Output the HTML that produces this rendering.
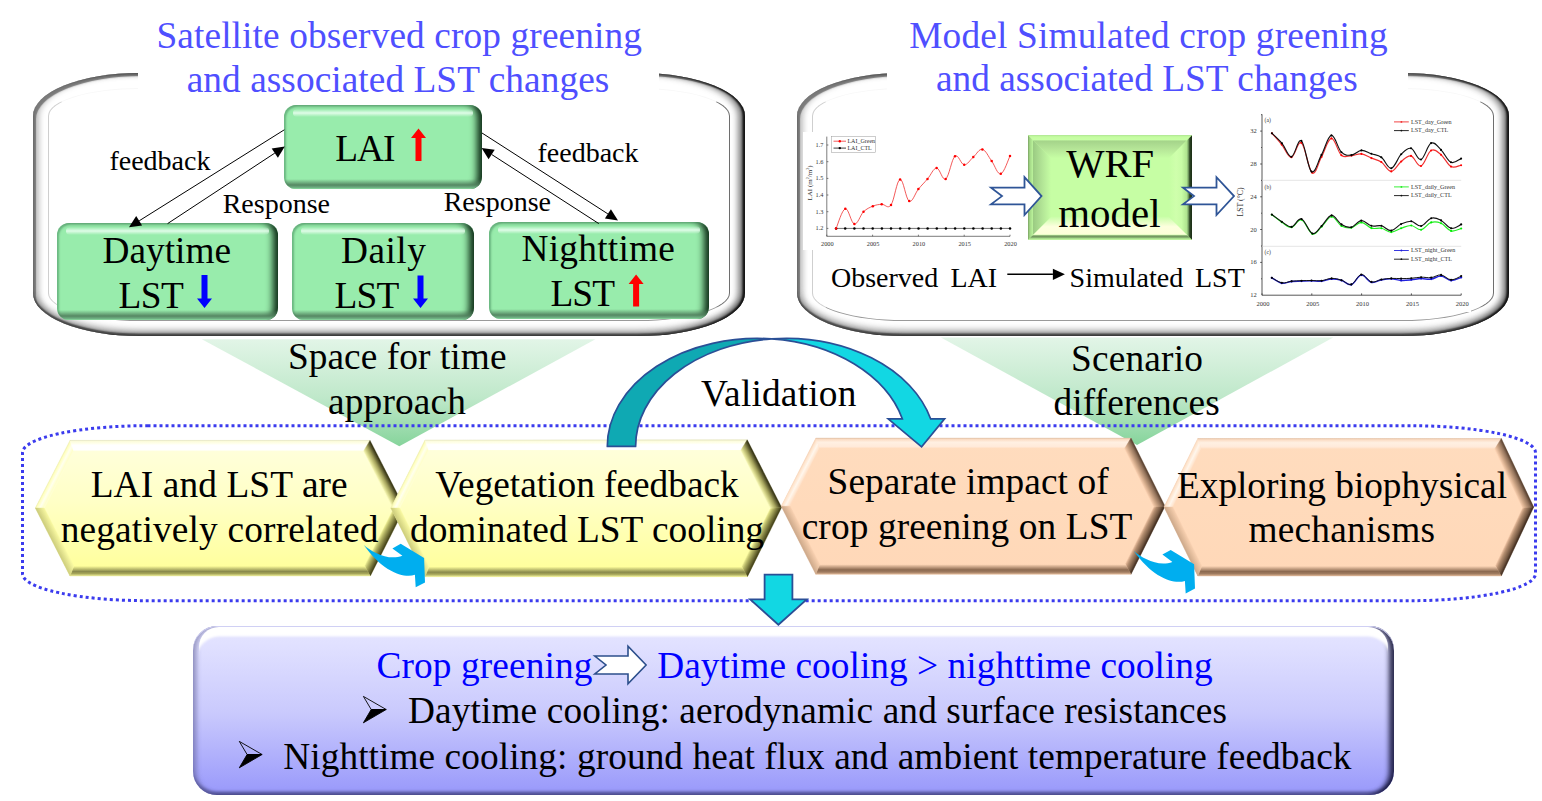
<!DOCTYPE html>
<html lang="en"><head><meta charset="utf-8"><title>Crop greening and LST changes - graphical abstract</title>
<style>
html,body{margin:0;padding:0;background:#fff}
body{width:1542px;height:801px;position:relative;overflow:hidden;font-family:"Liberation Serif", "Times New Roman", serif}
.abs{position:absolute}
.panel{position:absolute;border-radius:106px / 43px;background:#fff;
 box-shadow: inset -2.5px 0 2px 0 rgba(15,15,15,.95), inset 0 -2.5px 1.5px 0 rgba(72,72,72,.95), inset -7px 0 6px 0 rgba(50,50,50,.6), inset 0 -6px 6px 0 rgba(100,100,100,.55), inset 3px 3px 1px 0 #7e7e7e, inset 7px 1px 5px 0 rgba(140,140,140,.42);}
.panel i{position:absolute;left:15px;top:15px;right:15px;bottom:15px;border-radius:91px / 28px;border:1px solid;border-color:#f8f8f8 #6e6e6e #9a9a9a #cfcfcf}
.cover{position:absolute;background:#fff}
.bbox{position:absolute;left:193px;top:626px;width:1201px;height:168.5px;border-radius:24px;
 background:linear-gradient(to bottom,#dcdcfa 0,#e2e2ff 8%,#e0e0ff 12%,#c9c9fd 52%,#9c9cfb 96%);
 box-shadow: inset 0 1px 0 0 #d0d0f4, inset 5px 0 4px -1px rgba(95,95,150,.5), inset -6px 0 5px -1px rgba(12,12,45,.82), inset 0 -4.5px 3px -1px rgba(80,80,150,.78);}
.bbox:before{content:"";position:absolute;left:5.5px;right:6px;top:1.2px;height:60px;border-radius:20px 20px 0 0;
 box-shadow: inset 0 11.5px 2.5px -2px #fff;}
.gbox{position:absolute;border-radius:12px;background:#98ecac;overflow:hidden;
 box-shadow: inset 2px 1.5px 2px 0 rgba(70,140,95,.55), inset -8px 0 7px -3px rgba(0,25,8,.9);}
.gbox:before{content:"";position:absolute;left:9px;right:9px;top:4px;height:8px;border-radius:4px;
 background:linear-gradient(to bottom,rgba(255,255,255,0),rgba(235,255,242,.85) 50%,rgba(255,255,255,0));filter:blur(.6px)}
.gbox:after{content:"";position:absolute;left:0;right:0;bottom:0;height:10px;
 background:linear-gradient(to top,rgba(140,220,160,1) 0,rgba(110,175,130,1) 1.5px,rgba(82,130,95,.95) 4px,rgba(82,130,95,0) 10px)}
svg text{font-family:"Liberation Serif", "Times New Roman", serif}
svg{position:absolute;left:0;top:0}
</style></head><body>

<div class="panel" style="left:33px;top:73px;width:712px;height:263px"><i></i></div>
<div class="panel" style="left:797px;top:73px;width:712px;height:263px"><i></i></div>
<div class="cover" style="left:138px;top:60px;width:521px;height:50px"></div>
<div class="cover" style="left:887px;top:60px;width:521px;height:50px"></div>
<div class="cover" style="left:803px;top:132px;width:217px;height:118px"></div>
<div class="cover" style="left:1237px;top:108px;width:234px;height:204px"></div>
<div class="gbox" style="left:284px;top:105px;width:198px;height:84px"></div>
<div class="gbox" style="left:56.5px;top:223px;width:221px;height:97px"></div>
<div class="gbox" style="left:292px;top:223px;width:182px;height:97px"></div>
<div class="gbox" style="left:488.5px;top:222px;width:220.5px;height:97px"></div>
<div class="bbox"></div>
<svg width="1542" height="801" viewBox="0 0 1542 801">
<defs>
<linearGradient id="tri" x1="0" y1="0" x2="0" y2="1"><stop offset="0" stop-color="#e2f5e7"/><stop offset="0.55" stop-color="#bfe8ca"/><stop offset="1" stop-color="#86d49b"/></linearGradient>
<linearGradient id="bb" x1="0" y1="0" x2="0" y2="1"><stop offset="0" stop-color="#e8e8ff"/><stop offset="0.5" stop-color="#c8c8fd"/><stop offset="1" stop-color="#9898fb"/></linearGradient>
</defs>
<text x="399.2" y="47.9" font-size="37.33" fill="#4f4fff" text-anchor="middle"  textLength="485.6" lengthAdjust="spacing">Satellite observed crop greening</text>
<text x="398" y="91.7" font-size="37.33" fill="#4f4fff" text-anchor="middle"  textLength="422.6" lengthAdjust="spacing">and associated LST changes</text>
<text x="1148.4" y="48.3" font-size="37.33" fill="#4f4fff" text-anchor="middle"  textLength="478.4" lengthAdjust="spacing">Model Simulated crop greening</text>
<text x="1146.8" y="91.2" font-size="37.33" fill="#4f4fff" text-anchor="middle"  textLength="421.8" lengthAdjust="spacing">and associated LST changes</text>
<text x="335.2" y="161" font-size="37.33" fill="#000" text-anchor="start"  textLength="60.3" lengthAdjust="spacing">LAI</text>
<polygon fill="#ff0000" points="418.5,128.5 426,138 421.5,138 421.5,161 415.5,161 415.5,138 411,138"/>
<text x="166.8" y="262.5" font-size="37.33" fill="#000" text-anchor="middle"  textLength="128.5" lengthAdjust="spacing">Daytime</text>
<text x="118.6" y="308" font-size="37.33" fill="#000" text-anchor="start"  textLength="65.2" lengthAdjust="spacing">LST</text>
<polygon fill="#0000ff" points="204.5,308 212,298.5 207.5,298.5 207.5,275 201.5,275 201.5,298.5 197,298.5"/>
<text x="383.4" y="262.8" font-size="37.33" fill="#000" text-anchor="middle"  textLength="85" lengthAdjust="spacing">Daily</text>
<text x="334.4" y="307.9" font-size="37.33" fill="#000" text-anchor="start"  textLength="65" lengthAdjust="spacing">LST</text>
<polygon fill="#0000ff" points="420.5,307.9 428,298.4 423.5,298.4 423.5,275.6 417.5,275.6 417.5,298.4 413,298.4"/>
<text x="598.2" y="261.4" font-size="37.33" fill="#000" text-anchor="middle"  textLength="153.3" lengthAdjust="spacing">Nighttime</text>
<text x="550.4" y="306.4" font-size="37.33" fill="#000" text-anchor="start"  textLength="64.6" lengthAdjust="spacing">LST</text>
<polygon fill="#ff0000" points="636.1,274.5 643.6,284 639.1,284 639.1,306.6 633.1,306.6 633.1,284 628.6,284"/>
<line x1="284.3" y1="129.8" x2="139.2" y2="220.8" stroke="#000" stroke-width="1.0"/><polygon points="129,227.2 136.2,216.1 142.1,225.6" fill="#000"/>
<line x1="167.6" y1="223.6" x2="274.8" y2="153.1" stroke="#000" stroke-width="1.0"/><polygon points="284.8,146.5 277.9,157.8 271.7,148.4" fill="#000"/>
<line x1="482" y1="133" x2="607.9" y2="213.9" stroke="#000" stroke-width="1.0"/><polygon points="618,220.4 604.9,218.6 610.9,209.2" fill="#000"/>
<line x1="598.8" y1="223.6" x2="491.7" y2="154.5" stroke="#000" stroke-width="1.0"/><polygon points="481.6,148 494.7,149.8 488.6,159.2" fill="#000"/>
<text x="159.9" y="170" font-size="28" fill="#000" text-anchor="middle" >feedback</text>
<text x="276.3" y="213" font-size="28" fill="#000" text-anchor="middle" >Response</text>
<text x="588" y="161.6" font-size="28" fill="#000" text-anchor="middle" >feedback</text>
<text x="497.3" y="210.6" font-size="28" fill="#000" text-anchor="middle" >Response</text>
<defs>
<linearGradient id="wt" x1="0" y1="140.2" x2="0" y2="158.2" gradientUnits="userSpaceOnUse"><stop offset="0" stop-color="#a3d289"/><stop offset="0.5" stop-color="#b6e698"/><stop offset="1" stop-color="#c6fea4"/></linearGradient>
<linearGradient id="wb" x1="0" y1="234.8" x2="0" y2="216.8" gradientUnits="userSpaceOnUse"><stop offset="0" stop-color="#fcffd8"/><stop offset="0.45" stop-color="#fdffde"/><stop offset="1" stop-color="#c9fea8"/></linearGradient>
<linearGradient id="wl" x1="1033" y1="0" x2="1051" y2="0" gradientUnits="userSpaceOnUse"><stop offset="0" stop-color="#9aca82"/><stop offset="0.5" stop-color="#b2e496"/><stop offset="1" stop-color="#c6fea4"/></linearGradient>
<linearGradient id="wr" x1="1187" y1="0" x2="1169" y2="0" gradientUnits="userSpaceOnUse"><stop offset="0" stop-color="#aee28e"/><stop offset="0.3" stop-color="#c8fca6"/><stop offset="0.6" stop-color="#cfffac"/><stop offset="1" stop-color="#c6fea4"/></linearGradient>
<linearGradient id="wrl" x1="1028" y1="0" x2="1033" y2="0" gradientUnits="userSpaceOnUse"><stop offset="0" stop-color="#7aa262"/><stop offset="0.35" stop-color="#a2d686"/><stop offset="1" stop-color="#bcf49c"/></linearGradient>
<linearGradient id="wrr" x1="1192" y1="0" x2="1187" y2="0" gradientUnits="userSpaceOnUse"><stop offset="0" stop-color="#1a2c14"/><stop offset="0.45" stop-color="#2c4424"/><stop offset="0.75" stop-color="#7aa466"/><stop offset="1" stop-color="#a6d88a"/></linearGradient>
<linearGradient id="wrt" x1="0" y1="135.2" x2="0" y2="140.2" gradientUnits="userSpaceOnUse"><stop offset="0" stop-color="#a4de86"/><stop offset="0.3" stop-color="#c4fca0"/><stop offset="1" stop-color="#c8ffa6"/></linearGradient>
<linearGradient id="wrb" x1="0" y1="239.8" x2="0" y2="234.8" gradientUnits="userSpaceOnUse"><stop offset="0" stop-color="#bcf49c"/><stop offset="0.3" stop-color="#a4d888"/><stop offset="0.6" stop-color="#6c8e5a"/><stop offset="0.85" stop-color="#8db676"/><stop offset="1" stop-color="#e0f8c0"/></linearGradient>
</defs>
<rect x="1028" y="135.2" width="164" height="104.6" fill="#c6fea4"/>
<polygon points="1033,140.2 1187,140.2 1169,158.2 1051,158.2" fill="url(#wt)"/>
<polygon points="1033,234.8 1187,234.8 1169,216.8 1051,216.8" fill="url(#wb)"/>
<polygon points="1033,140.2 1051,158.2 1051,216.8 1033,234.8" fill="url(#wl)"/>
<polygon points="1187,140.2 1169,158.2 1169,216.8 1187,234.8" fill="url(#wr)"/>
<polygon points="1028,135.2 1192,135.2 1187,140.2 1033,140.2" fill="url(#wrt)"/>
<polygon points="1028,239.8 1192,239.8 1187,234.8 1033,234.8" fill="url(#wrb)"/>
<polygon points="1028,135.2 1033,140.2 1033,234.8 1028,239.8" fill="url(#wrl)"/>
<polygon points="1192,135.2 1187,140.2 1187,234.8 1192,239.8" fill="url(#wrr)"/>

<text x="1110.2" y="177.4" font-size="40.6" fill="#000" text-anchor="middle" >WRF</text>
<text x="1109.4" y="226.8" font-size="40.9" fill="#000" text-anchor="middle" >model</text>
<polygon points="991,187.6 1024.5,187.6 1024.5,177.2 1041.5,196.1 1024.5,215 1024.5,204.4 991,204.4 1002,196.1" fill="#fff" stroke="#2F5597" stroke-width="1.8" stroke-linejoin="miter"/>
<polygon points="1183,187.6 1216.5,187.6 1216.5,177.2 1234,196.1 1216.5,215 1216.5,204.4 1183,204.4 1194,196.1" fill="#fff" stroke="#2F5597" stroke-width="1.8" stroke-linejoin="miter"/>
<text x="831" y="286.8" font-size="28" fill="#000" text-anchor="start" >Observed</text>
<text x="950.4" y="286.8" font-size="28" fill="#000" text-anchor="start" >LAI</text>
<line x1="1007.3" y1="274.3" x2="1052.9" y2="274.3" stroke="#000" stroke-width="1.5"/><polygon points="1064.9,274.3 1052.9,279.9 1052.9,268.7" fill="#000"/>
<text x="1069.6" y="286.8" font-size="28" fill="#000" text-anchor="start" >Simulated</text>
<text x="1195" y="286.8" font-size="28" fill="#000" text-anchor="start" >LST</text>
<g stroke="#444" stroke-width=".7" fill="none"><path d="M826.8,136.6V236.3H1010"/><path d="M826.8,236.3v-1.6"/><path d="M872.6,236.3v-1.6"/><path d="M918.4,236.3v-1.6"/><path d="M964.2,236.3v-1.6"/><path d="M1010,236.3v-1.6"/><path d="M826.8,228.4h1.6"/><path d="M826.8,211.7h1.6"/><path d="M826.8,195h1.6"/><path d="M826.8,178.4h1.6"/><path d="M826.8,161.7h1.6"/><path d="M826.8,145h1.6"/></g>
<g font-size="6.3" fill="#333" text-anchor="middle"><text x="827.3" y="246.2">2000</text><text x="873.1" y="246.2">2005</text><text x="918.9" y="246.2">2010</text><text x="964.7" y="246.2">2015</text><text x="1010.5" y="246.2">2020</text><text x="819.5" y="230.3">1.2</text><text x="819.5" y="213.6">1.3</text><text x="819.5" y="196.9">1.4</text><text x="819.5" y="180.3">1.5</text><text x="819.5" y="163.6">1.6</text><text x="819.5" y="146.9">1.7</text><text transform="translate(811.8,182.9) rotate(-90)" font-size="7">LAI (m<tspan font-size="4.2" dy="-2.4">2</tspan><tspan dy="2.4">/m</tspan><tspan font-size="4.2" dy="-2.4">2</tspan><tspan dy="2.4">)</tspan></text></g>
<line x1="836.1" y1="228.4" x2="1010" y2="228.4" stroke="#111" stroke-width=".6"/>
<g fill="#000"><circle cx="836.1" cy="228.4" r="1.25"/><circle cx="845.2" cy="228.4" r="1.25"/><circle cx="854.4" cy="228.4" r="1.25"/><circle cx="863.5" cy="228.4" r="1.25"/><circle cx="872.7" cy="228.4" r="1.25"/><circle cx="881.9" cy="228.4" r="1.25"/><circle cx="891" cy="228.4" r="1.25"/><circle cx="900.2" cy="228.4" r="1.25"/><circle cx="909.3" cy="228.4" r="1.25"/><circle cx="918.5" cy="228.4" r="1.25"/><circle cx="927.6" cy="228.4" r="1.25"/><circle cx="936.8" cy="228.4" r="1.25"/><circle cx="945.9" cy="228.4" r="1.25"/><circle cx="955.1" cy="228.4" r="1.25"/><circle cx="964.3" cy="228.4" r="1.25"/><circle cx="973.4" cy="228.4" r="1.25"/><circle cx="982.6" cy="228.4" r="1.25"/><circle cx="991.7" cy="228.4" r="1.25"/><circle cx="1000.9" cy="228.4" r="1.25"/><circle cx="1010" cy="228.4" r="1.25"/></g>
<path d="M836.1,228.4C837.8,224.8 842,209.6 845.3,208.8C848.7,208 851.1,223.5 854.4,224C857.8,224.6 860.2,215.1 863.5,211.8C866.9,208.5 869.5,207.6 872.8,206.2C876.1,204.8 878.4,204.5 881.7,204.3C885,204 887.6,209.5 891,205C894.3,200.4 896.7,180.1 900.1,179.4C903.4,178.7 905.8,199.4 909.2,201.1C912.5,202.9 915.1,193.1 918.4,189.1C921.8,185 924.2,182.8 927.5,178.9C930.9,175.1 933.3,168.1 936.6,168.1C939.9,168.1 942.3,181.1 945.7,178.9C949.1,176.7 951.6,158.8 955,156.2C958.4,153.6 960.9,164.6 964.2,164.8C967.6,164.9 970,159.9 973.3,157.1C976.7,154.2 979,148.6 982.4,149.4C985.8,150.1 988.3,156.6 991.7,161.1C995,165.6 997.4,174.8 1000.8,173.8C1004.1,172.9 1008.3,159.3 1010,156" fill="none" stroke="#f03030" stroke-width=".8"/>
<g fill="#ff0000"><circle cx="836.1" cy="228.4" r="1.25"/><circle cx="845.3" cy="208.8" r="1.25"/><circle cx="854.4" cy="224" r="1.25"/><circle cx="863.5" cy="211.8" r="1.25"/><circle cx="872.8" cy="206.2" r="1.25"/><circle cx="881.7" cy="204.3" r="1.25"/><circle cx="891" cy="205" r="1.25"/><circle cx="900.1" cy="179.4" r="1.25"/><circle cx="909.2" cy="201.1" r="1.25"/><circle cx="918.4" cy="189.1" r="1.25"/><circle cx="927.5" cy="178.9" r="1.25"/><circle cx="936.6" cy="168.1" r="1.25"/><circle cx="945.7" cy="178.9" r="1.25"/><circle cx="955" cy="156.2" r="1.25"/><circle cx="964.2" cy="164.8" r="1.25"/><circle cx="973.3" cy="157.1" r="1.25"/><circle cx="982.4" cy="149.4" r="1.25"/><circle cx="991.7" cy="161.1" r="1.25"/><circle cx="1000.8" cy="173.8" r="1.25"/><circle cx="1010" cy="156" r="1.25"/></g>
<rect x="831.7" y="136.6" width="43.7" height="16.1" fill="#fff" stroke="#999" stroke-width=".5"/>
<line x1="833.5" y1="141.2" x2="846" y2="141.2" stroke="#f03030" stroke-width=".8"/><circle cx="839.8" cy="141.2" r="1.2" fill="#f00"/>
<line x1="833.5" y1="148.1" x2="846" y2="148.1" stroke="#111" stroke-width=".8"/><circle cx="839.8" cy="148.1" r="1.2" fill="#000"/>
<text x="847.4" y="142.9" font-size="6" fill="#333">LAI_Green</text>
<text x="847.4" y="149.9" font-size="6" fill="#333">LAI_CTL</text>
<g stroke="#444" stroke-width=".9" fill="none"><path d="M1262,114.3V295.2H1461.2"/><path d="M1262,295.2v-1.8"/><path d="M1311.8,295.2v-1.8"/><path d="M1361.6,295.2v-1.8"/><path d="M1411.4,295.2v-1.8"/><path d="M1461.2,295.2v-1.8"/><path d="M1262,131.1h-1.8"/><path d="M1262,164h-1.8"/><path d="M1262,196.8h-1.8"/><path d="M1262,229.5h-1.8"/><path d="M1262,262.4h-1.8"/><path d="M1262,114.7h-1"/><path d="M1262,147.5h-1"/><path d="M1262,180.4h-1"/><path d="M1262,213.2h-1"/><path d="M1262,246h-1"/><path d="M1262,278.8h-1"/></g><path d="M1262,180.3H1461.2M1262,246.3H1461.2" stroke="#d4d4d4" stroke-width=".6" fill="none"/>
<g font-size="6.5" fill="#333" text-anchor="middle"><text x="1263" y="305.8">2000</text><text x="1312.8" y="305.8">2005</text><text x="1362.6" y="305.8">2010</text><text x="1412.4" y="305.8">2015</text><text x="1462.2" y="305.8">2020</text><text x="1253.5" y="133.1">32</text><text x="1253.5" y="166">28</text><text x="1253.5" y="198.8">24</text><text x="1253.5" y="231.5">20</text><text x="1253.5" y="264.4">16</text><text x="1253.5" y="297.2">12</text><text transform="translate(1242.6,202) rotate(-90)" font-size="7.8">LST (°C)</text></g><g font-size="5.6" fill="#333"><text x="1264.6" y="121.7">(a)</text><text x="1264.6" y="189.2">(b)</text><text x="1264.6" y="253.8">(c)</text></g>
<path d="M1271.9,133.3C1273.7,135.4 1278.1,140.2 1281.7,144.6C1285.2,149 1287.8,157.6 1291.4,157.3C1295.1,157 1297.6,140.1 1301.4,142.9C1305.2,145.8 1308.5,170.2 1312.2,172.8C1315.9,175.4 1317.9,163.2 1321.5,156.9C1325,150.6 1327.8,138.7 1331.4,138.4C1335.1,138.1 1337.7,152.1 1341.4,155.3C1345,158.4 1347.8,155.8 1351.5,155.6C1355.2,155.3 1357.8,153.4 1361.4,153.9C1365.1,154.4 1367.7,156.6 1371.4,158.1C1375,159.6 1377.7,159.6 1381.3,162C1385,164.4 1387.6,171.5 1391.3,171.4C1394.9,171.3 1397.6,164.3 1401.2,161.5C1404.8,158.6 1407.4,155.1 1411,155.9C1414.6,156.8 1417.3,167 1421,166C1424.6,165.1 1427.4,152.6 1431.1,150.5C1434.7,148.5 1437.4,151.8 1441,154.7C1444.7,157.7 1447.3,164.6 1451,166.6C1454.6,168.5 1459.2,165.4 1461.1,165.2" fill="none" stroke="#f03030" stroke-width="1.15"/><g fill="#ff0000"><circle cx="1271.9" cy="133.3" r="1.05"/><circle cx="1281.7" cy="144.6" r="1.05"/><circle cx="1291.4" cy="157.3" r="1.05"/><circle cx="1301.4" cy="142.9" r="1.05"/><circle cx="1312.2" cy="172.8" r="1.05"/><circle cx="1321.5" cy="156.9" r="1.05"/><circle cx="1331.4" cy="138.4" r="1.05"/><circle cx="1341.4" cy="155.3" r="1.05"/><circle cx="1351.5" cy="155.6" r="1.05"/><circle cx="1361.4" cy="153.9" r="1.05"/><circle cx="1371.4" cy="158.1" r="1.05"/><circle cx="1381.3" cy="162" r="1.05"/><circle cx="1391.3" cy="171.4" r="1.05"/><circle cx="1401.2" cy="161.5" r="1.05"/><circle cx="1411" cy="155.9" r="1.05"/><circle cx="1421" cy="166" r="1.05"/><circle cx="1431.1" cy="150.5" r="1.05"/><circle cx="1441" cy="154.7" r="1.05"/><circle cx="1451" cy="166.6" r="1.05"/><circle cx="1461.1" cy="165.2" r="1.05"/></g>
<path d="M1271.9,133.2C1273.7,135 1278.4,139 1282,143.3C1285.6,147.6 1287.9,157.2 1291.4,156.8C1295,156.3 1297.7,138.2 1301.4,140.9C1305.1,143.6 1307.8,169 1311.5,171.6C1315.2,174.2 1317.8,161.6 1321.5,154.9C1325.1,148.3 1327.8,135.8 1331.4,135.4C1335.1,134.9 1337.7,148.6 1341.4,152.2C1345,155.8 1347.8,155.4 1351.5,155.1C1355.2,154.7 1357.8,150.6 1361.4,150.4C1365.1,150.1 1367.7,152.5 1371.4,153.7C1375,155 1377.7,154.6 1381.3,157.3C1385,159.9 1387.6,168.8 1391.3,168.2C1394.9,167.7 1397.6,157.9 1401.2,154.2C1404.8,150.6 1407.4,147.4 1411,148.3C1414.6,149.3 1417.3,160.4 1421,159.5C1424.6,158.5 1427.4,144.9 1431.1,143.1C1434.7,141.3 1437.4,146.3 1441,149.9C1444.7,153.4 1447.3,160.7 1451,162.3C1454.6,163.9 1459.2,159.3 1461.1,158.6" fill="none" stroke="#111" stroke-width="1.15"/><g fill="#000"><circle cx="1271.9" cy="133.2" r="1.05"/><circle cx="1282" cy="143.3" r="1.05"/><circle cx="1291.4" cy="156.8" r="1.05"/><circle cx="1301.4" cy="140.9" r="1.05"/><circle cx="1311.5" cy="171.6" r="1.05"/><circle cx="1321.5" cy="154.9" r="1.05"/><circle cx="1331.4" cy="135.4" r="1.05"/><circle cx="1341.4" cy="152.2" r="1.05"/><circle cx="1351.5" cy="155.1" r="1.05"/><circle cx="1361.4" cy="150.4" r="1.05"/><circle cx="1371.4" cy="153.7" r="1.05"/><circle cx="1381.3" cy="157.3" r="1.05"/><circle cx="1391.3" cy="168.2" r="1.05"/><circle cx="1401.2" cy="154.2" r="1.05"/><circle cx="1411" cy="148.3" r="1.05"/><circle cx="1421" cy="159.5" r="1.05"/><circle cx="1431.1" cy="143.1" r="1.05"/><circle cx="1441" cy="149.9" r="1.05"/><circle cx="1451" cy="162.3" r="1.05"/><circle cx="1461.1" cy="158.6" r="1.05"/></g>
<path d="M1271.8,214.7C1273.7,216 1278.2,219.9 1281.8,222.2C1285.4,224.5 1288,227.7 1291.6,227.2C1295.2,226.8 1297.7,218.5 1301.5,219.7C1305.3,220.9 1308.7,232.6 1312.4,233.9C1316.1,235.2 1318.1,229.9 1321.6,226.7C1325.2,223.6 1327.9,216.9 1331.6,216.8C1335.2,216.6 1337.9,224 1341.5,226C1345.2,228 1347.7,228.4 1351.3,227.8C1355,227.1 1357.6,222.3 1361.3,222.4C1365,222.4 1367.7,227 1371.4,228.1C1375.1,229.2 1377.7,227.6 1381.4,228.3C1385,229 1387.7,232.1 1391.3,232.1C1395,232.1 1397.5,229.5 1401.1,228.3C1404.8,227.1 1407.6,225.2 1411.3,225.5C1414.9,225.8 1417.4,230.3 1421.1,229.7C1424.7,229.1 1427.5,223.5 1431.2,222.4C1434.9,221.2 1437.5,221.7 1441.1,223.2C1444.8,224.8 1447.4,230 1451.1,230.9C1454.8,231.9 1459.4,228.9 1461.2,228.5" fill="none" stroke="#22ee22" stroke-width="1.15"/><g fill="#00ee00"><circle cx="1271.8" cy="214.7" r="1.05"/><circle cx="1281.8" cy="222.2" r="1.05"/><circle cx="1291.6" cy="227.2" r="1.05"/><circle cx="1301.5" cy="219.7" r="1.05"/><circle cx="1312.4" cy="233.9" r="1.05"/><circle cx="1321.6" cy="226.7" r="1.05"/><circle cx="1331.6" cy="216.8" r="1.05"/><circle cx="1341.5" cy="226" r="1.05"/><circle cx="1351.3" cy="227.8" r="1.05"/><circle cx="1361.3" cy="222.4" r="1.05"/><circle cx="1371.4" cy="228.1" r="1.05"/><circle cx="1381.4" cy="228.3" r="1.05"/><circle cx="1391.3" cy="232.1" r="1.05"/><circle cx="1401.1" cy="228.3" r="1.05"/><circle cx="1411.3" cy="225.5" r="1.05"/><circle cx="1421.1" cy="229.7" r="1.05"/><circle cx="1431.2" cy="222.4" r="1.05"/><circle cx="1441.1" cy="223.2" r="1.05"/><circle cx="1451.1" cy="230.9" r="1.05"/><circle cx="1461.2" cy="228.5" r="1.05"/></g>
<path d="M1271.8,214.5C1273.7,215.8 1278.2,219.4 1281.8,221.7C1285.4,223.9 1288,227.4 1291.6,226.9C1295.2,226.4 1297.7,217.8 1301.5,219C1305.3,220.3 1308.7,232.3 1312.4,233.5C1316.1,234.8 1318.1,229.4 1321.6,226C1325.2,222.7 1327.9,215.7 1331.6,215.4C1335.2,215.1 1337.9,222.3 1341.5,224.4C1345.2,226.6 1347.7,228 1351.3,227.2C1355,226.5 1357.6,220.9 1361.3,220.6C1365,220.3 1367.7,224.9 1371.4,225.8C1375.1,226.8 1377.7,225 1381.4,225.8C1385,226.7 1387.7,230.9 1391.3,230.6C1395,230.2 1397.5,225.8 1401.1,224.1C1404.8,222.4 1407.6,221 1411.3,221.3C1414.9,221.7 1417.4,226.6 1421.1,226C1424.7,225.4 1427.5,219.2 1431.2,218.2C1434.9,217.1 1437.5,218.6 1441.1,220.4C1444.8,222.3 1447.4,227.6 1451.1,228.3C1454.8,229 1459.4,225.2 1461.2,224.4" fill="none" stroke="#111" stroke-width="1.15"/><g fill="#000"><circle cx="1271.8" cy="214.5" r="1.05"/><circle cx="1281.8" cy="221.7" r="1.05"/><circle cx="1291.6" cy="226.9" r="1.05"/><circle cx="1301.5" cy="219" r="1.05"/><circle cx="1312.4" cy="233.5" r="1.05"/><circle cx="1321.6" cy="226" r="1.05"/><circle cx="1331.6" cy="215.4" r="1.05"/><circle cx="1341.5" cy="224.4" r="1.05"/><circle cx="1351.3" cy="227.2" r="1.05"/><circle cx="1361.3" cy="220.6" r="1.05"/><circle cx="1371.4" cy="225.8" r="1.05"/><circle cx="1381.4" cy="225.8" r="1.05"/><circle cx="1391.3" cy="230.6" r="1.05"/><circle cx="1401.1" cy="224.1" r="1.05"/><circle cx="1411.3" cy="221.3" r="1.05"/><circle cx="1421.1" cy="226" r="1.05"/><circle cx="1431.2" cy="218.2" r="1.05"/><circle cx="1441.1" cy="220.4" r="1.05"/><circle cx="1451.1" cy="228.3" r="1.05"/><circle cx="1461.2" cy="224.4" r="1.05"/></g>
<path d="M1271.8,277.9C1273.7,278.9 1278.2,282.5 1281.8,283.2C1285.4,283.8 1288,281.8 1291.6,281.4C1295.2,281 1297.9,281.2 1301.5,281.1C1305.2,280.9 1307.8,280.7 1311.5,280.7C1315.2,280.7 1317.9,281.4 1321.6,281.1C1325.3,280.7 1327.9,279.1 1331.6,279C1335.2,278.8 1337.9,279.3 1341.5,280.4C1345.2,281.4 1347.7,285.5 1351.3,284.6C1355,283.6 1357.6,275.5 1361.3,275.1C1365,274.7 1367.7,281.4 1371.4,282.3C1375.1,283.2 1377.7,280.5 1381.4,279.8C1385,279.2 1387.7,278.7 1391.3,278.8C1395,278.9 1397.5,280.2 1401.1,280.4C1404.8,280.6 1407.6,280.2 1411.3,279.8C1414.9,279.5 1417.4,278.7 1421.1,278.6C1424.7,278.5 1427.5,279.6 1431.2,279.1C1434.9,278.7 1437.5,275.7 1441.1,276C1444.8,276.3 1447.4,280.3 1451.1,280.5C1454.8,280.8 1459.4,278 1461.2,277.4" fill="none" stroke="#2222dd" stroke-width="1.5"/><g fill="#1010cc"><circle cx="1271.8" cy="277.9" r="1.05"/><circle cx="1281.8" cy="283.2" r="1.05"/><circle cx="1291.6" cy="281.4" r="1.05"/><circle cx="1301.5" cy="281.1" r="1.05"/><circle cx="1311.5" cy="280.7" r="1.05"/><circle cx="1321.6" cy="281.1" r="1.05"/><circle cx="1331.6" cy="279" r="1.05"/><circle cx="1341.5" cy="280.4" r="1.05"/><circle cx="1351.3" cy="284.6" r="1.05"/><circle cx="1361.3" cy="275.1" r="1.05"/><circle cx="1371.4" cy="282.3" r="1.05"/><circle cx="1381.4" cy="279.8" r="1.05"/><circle cx="1391.3" cy="278.8" r="1.05"/><circle cx="1401.1" cy="280.4" r="1.05"/><circle cx="1411.3" cy="279.8" r="1.05"/><circle cx="1421.1" cy="278.6" r="1.05"/><circle cx="1431.2" cy="279.1" r="1.05"/><circle cx="1441.1" cy="276" r="1.05"/><circle cx="1451.1" cy="280.5" r="1.05"/><circle cx="1461.2" cy="277.4" r="1.05"/></g>
<path d="M1271.8,277.7C1273.7,278.7 1278.2,282.2 1281.8,282.8C1285.4,283.5 1288,281.6 1291.6,281.2C1295.2,280.9 1297.9,280.8 1301.5,280.7C1305.2,280.6 1307.8,280.5 1311.5,280.5C1315.2,280.5 1317.9,281.1 1321.6,280.7C1325.3,280.3 1327.9,278.5 1331.6,278.4C1335.2,278.3 1337.9,279.1 1341.5,280.2C1345.2,281.3 1347.7,285.4 1351.3,284.4C1355,283.4 1357.6,275 1361.3,274.6C1365,274.1 1367.7,281 1371.4,281.9C1375.1,282.8 1377.7,280.1 1381.4,279.5C1385,278.8 1387.7,278.6 1391.3,278.4C1395,278.3 1397.5,278.6 1401.1,278.6C1404.8,278.6 1407.6,278.5 1411.3,278.3C1414.9,278 1417.4,277.3 1421.1,277.2C1424.7,277.1 1427.5,278 1431.2,277.6C1434.9,277.2 1437.5,274.5 1441.1,274.9C1444.8,275.4 1447.4,279.6 1451.1,279.8C1454.8,280 1459.4,276.7 1461.2,276" fill="none" stroke="#111" stroke-width="1.0"/><g fill="#000"><circle cx="1271.8" cy="277.7" r="1.05"/><circle cx="1281.8" cy="282.8" r="1.05"/><circle cx="1291.6" cy="281.2" r="1.05"/><circle cx="1301.5" cy="280.7" r="1.05"/><circle cx="1311.5" cy="280.5" r="1.05"/><circle cx="1321.6" cy="280.7" r="1.05"/><circle cx="1331.6" cy="278.4" r="1.05"/><circle cx="1341.5" cy="280.2" r="1.05"/><circle cx="1351.3" cy="284.4" r="1.05"/><circle cx="1361.3" cy="274.6" r="1.05"/><circle cx="1371.4" cy="281.9" r="1.05"/><circle cx="1381.4" cy="279.5" r="1.05"/><circle cx="1391.3" cy="278.4" r="1.05"/><circle cx="1401.1" cy="278.6" r="1.05"/><circle cx="1411.3" cy="278.3" r="1.05"/><circle cx="1421.1" cy="277.2" r="1.05"/><circle cx="1431.2" cy="277.6" r="1.05"/><circle cx="1441.1" cy="274.9" r="1.05"/><circle cx="1451.1" cy="279.8" r="1.05"/><circle cx="1461.2" cy="276" r="1.05"/></g>
<line x1="1394" y1="121.9" x2="1408.8" y2="121.9" stroke="#f03030" stroke-width=".9"/><circle cx="1401.4" cy="121.9" r=".9" fill="#f03030"/><text x="1411" y="123.7" font-size="6.1" fill="#333">LST_day_Green</text>
<line x1="1394" y1="130.6" x2="1408.8" y2="130.6" stroke="#111" stroke-width=".9"/><circle cx="1401.4" cy="130.6" r=".9" fill="#111"/><text x="1411" y="132.4" font-size="6.1" fill="#333">LST_day_CTL</text>
<line x1="1394" y1="186.9" x2="1408.8" y2="186.9" stroke="#22ee22" stroke-width=".9"/><circle cx="1401.4" cy="186.9" r=".9" fill="#22ee22"/><text x="1411" y="188.7" font-size="6.1" fill="#333">LST_daily_Green</text>
<line x1="1394" y1="195.6" x2="1408.8" y2="195.6" stroke="#111" stroke-width=".9"/><circle cx="1401.4" cy="195.6" r=".9" fill="#111"/><text x="1411" y="197.4" font-size="6.1" fill="#333">LST_daily_CTL</text>
<line x1="1394" y1="250.5" x2="1408.8" y2="250.5" stroke="#2222dd" stroke-width=".9"/><circle cx="1401.4" cy="250.5" r=".9" fill="#2222dd"/><text x="1411" y="252.3" font-size="6.1" fill="#333">LST_night_Green</text>
<line x1="1394" y1="259.2" x2="1408.8" y2="259.2" stroke="#111" stroke-width=".9"/><circle cx="1401.4" cy="259.2" r=".9" fill="#111"/><text x="1411" y="261" font-size="6.1" fill="#333">LST_night_CTL</text>
<polygon points="201.8,339.2 595.4,339.2 399.3,446.2" fill="url(#tri)"/>
<polygon points="940.9,337.5 1333.2,337.5 1137,445" fill="url(#tri)"/>
<defs><linearGradient id="hx1f" x1="0" y1="440.4" x2="0" y2="576" gradientUnits="userSpaceOnUse"><stop offset="0" stop-color="#ffffde"/><stop offset="0.45" stop-color="#ffffc6"/><stop offset="1" stop-color="#ffff98"/></linearGradient><linearGradient id="hx1e0" x1="52.6" y1="474.2" x2="59.8" y2="477.9" gradientUnits="userSpaceOnUse"><stop offset="0" stop-color="#eeeeae"/><stop offset="0.15" stop-color="#ffffc0"/><stop offset="0.5" stop-color="#ffffee"/><stop offset="0.85" stop-color="#ffffcc"/><stop offset="1" stop-color="#ffffd6"/></linearGradient><linearGradient id="hx1e1" x1="220" y1="440.4" x2="220" y2="450.9" gradientUnits="userSpaceOnUse"><stop offset="0" stop-color="#e0e0ba"/><stop offset="0.1" stop-color="#fcfcdc"/><stop offset="0.3" stop-color="#ffffec"/><stop offset="0.45" stop-color="#ffffff"/><stop offset="0.93" stop-color="#ffffff"/><stop offset="1" stop-color="#ffffde"/></linearGradient><linearGradient id="hx1e2" x1="387.3" y1="474.2" x2="378" y2="479" gradientUnits="userSpaceOnUse"><stop offset="0" stop-color="#2c2a0c"/><stop offset="0.18" stop-color="#55532a"/><stop offset="0.5" stop-color="#a4a25c"/><stop offset="0.8" stop-color="#d8d88c"/><stop offset="1" stop-color="#f8f8b8"/></linearGradient><linearGradient id="hx1e3" x1="387.5" y1="542" x2="379" y2="537.7" gradientUnits="userSpaceOnUse"><stop offset="0" stop-color="#3c3a14"/><stop offset="0.3" stop-color="#6e6c34"/><stop offset="0.75" stop-color="#b8b868"/><stop offset="1" stop-color="#eaea90"/></linearGradient><linearGradient id="hx1e4" x1="220.2" y1="576" x2="220.2" y2="566" gradientUnits="userSpaceOnUse"><stop offset="0" stop-color="#ecec98"/><stop offset="0.25" stop-color="#a4a458"/><stop offset="0.45" stop-color="#8a8a4c"/><stop offset="1" stop-color="#ffff9c"/></linearGradient><linearGradient id="hx1e5" x1="52.6" y1="542" x2="59.8" y2="538.4" gradientUnits="userSpaceOnUse"><stop offset="0" stop-color="#cccc7c"/><stop offset="0.5" stop-color="#e2e28e"/><stop offset="1" stop-color="#f9f9a2"/></linearGradient></defs><polygon points="35.3,508 70,440.4 370,440.4 404.6,508 370.3,576 70,576" fill="url(#hx1f)"/><polygon points="35.3,508 70,440.4 73.6,450.9 44.3,508" fill="url(#hx1e0)" stroke="url(#hx1e0)" stroke-width=".4"/><polygon points="70,440.4 370,440.4 363.6,450.9 73.6,450.9" fill="url(#hx1e1)" stroke="url(#hx1e1)" stroke-width=".4"/><polygon points="370,440.4 404.6,508 393.4,509.1 363.6,450.9" fill="url(#hx1e2)" stroke="url(#hx1e2)" stroke-width=".4"/><polygon points="404.6,508 370.3,576 364.7,566 393.4,509.1" fill="url(#hx1e3)" stroke="url(#hx1e3)" stroke-width=".4"/><polygon points="370.3,576 70,576 73.9,566 364.7,566" fill="url(#hx1e4)" stroke="url(#hx1e4)" stroke-width=".4"/><polygon points="70,576 35.3,508 44.3,508 73.9,566" fill="url(#hx1e5)" stroke="url(#hx1e5)" stroke-width=".4"/>
<defs><linearGradient id="hx2f" x1="0" y1="439.8" x2="0" y2="576.7" gradientUnits="userSpaceOnUse"><stop offset="0" stop-color="#ffffde"/><stop offset="0.45" stop-color="#ffffc6"/><stop offset="1" stop-color="#ffff98"/></linearGradient><linearGradient id="hx2e0" x1="407.9" y1="474" x2="415" y2="477.6" gradientUnits="userSpaceOnUse"><stop offset="0" stop-color="#eeeeae"/><stop offset="0.15" stop-color="#ffffc0"/><stop offset="0.5" stop-color="#ffffee"/><stop offset="0.85" stop-color="#ffffcc"/><stop offset="1" stop-color="#ffffd6"/></linearGradient><linearGradient id="hx2e1" x1="586.1" y1="439.9" x2="586.1" y2="450.4" gradientUnits="userSpaceOnUse"><stop offset="0" stop-color="#e0e0ba"/><stop offset="0.1" stop-color="#fcfcdc"/><stop offset="0.3" stop-color="#ffffec"/><stop offset="0.45" stop-color="#ffffff"/><stop offset="0.93" stop-color="#ffffff"/><stop offset="1" stop-color="#ffffde"/></linearGradient><linearGradient id="hx2e2" x1="764.4" y1="473.6" x2="755" y2="478.4" gradientUnits="userSpaceOnUse"><stop offset="0" stop-color="#2c2a0c"/><stop offset="0.18" stop-color="#55532a"/><stop offset="0.5" stop-color="#a4a25c"/><stop offset="0.8" stop-color="#d8d88c"/><stop offset="1" stop-color="#f8f8b8"/></linearGradient><linearGradient id="hx2e3" x1="764.5" y1="542" x2="756" y2="537.8" gradientUnits="userSpaceOnUse"><stop offset="0" stop-color="#3c3a14"/><stop offset="0.3" stop-color="#6e6c34"/><stop offset="0.75" stop-color="#b8b868"/><stop offset="1" stop-color="#eaea90"/></linearGradient><linearGradient id="hx2e4" x1="586.2" y1="576.7" x2="586.2" y2="566.7" gradientUnits="userSpaceOnUse"><stop offset="0" stop-color="#ecec98"/><stop offset="0.25" stop-color="#a4a458"/><stop offset="0.45" stop-color="#8a8a4c"/><stop offset="1" stop-color="#ffff9c"/></linearGradient><linearGradient id="hx2e5" x1="407.9" y1="542.4" x2="415.1" y2="538.8" gradientUnits="userSpaceOnUse"><stop offset="0" stop-color="#cccc7c"/><stop offset="0.5" stop-color="#e2e28e"/><stop offset="1" stop-color="#f9f9a2"/></linearGradient></defs><polygon points="390.8,508 425,440 747.2,439.8 781.6,507.4 747.4,576.7 425,576.7" fill="url(#hx2f)"/><polygon points="390.8,508 425,440 428.7,450.5 399.7,508" fill="url(#hx2e0)" stroke="url(#hx2e0)" stroke-width=".4"/><polygon points="425,440 747.2,439.8 740.8,450.3 428.7,450.5" fill="url(#hx2e1)" stroke="url(#hx2e1)" stroke-width=".4"/><polygon points="747.2,439.8 781.6,507.4 770.4,508.6 740.8,450.3" fill="url(#hx2e2)" stroke="url(#hx2e2)" stroke-width=".4"/><polygon points="781.6,507.4 747.4,576.7 741.7,566.7 770.4,508.6" fill="url(#hx2e3)" stroke="url(#hx2e3)" stroke-width=".4"/><polygon points="747.4,576.7 425,576.7 429,566.7 741.7,566.7" fill="url(#hx2e4)" stroke="url(#hx2e4)" stroke-width=".4"/><polygon points="425,576.7 390.8,508 399.7,508 429,566.7" fill="url(#hx2e5)" stroke="url(#hx2e5)" stroke-width=".4"/>
<defs><linearGradient id="hx3f" x1="0" y1="438.1" x2="0" y2="574.3" gradientUnits="userSpaceOnUse"><stop offset="0" stop-color="#ffdcbe"/><stop offset="1" stop-color="#ffd8b8"/></linearGradient><linearGradient id="hx3e0" x1="798.5" y1="472.1" x2="805.6" y2="475.8" gradientUnits="userSpaceOnUse"><stop offset="0" stop-color="#f6d6bc"/><stop offset="0.15" stop-color="#ffe4cc"/><stop offset="0.5" stop-color="#fff6ec"/><stop offset="0.85" stop-color="#ffe6d0"/><stop offset="1" stop-color="#ffdcc0"/></linearGradient><linearGradient id="hx3e1" x1="973.4" y1="438.1" x2="973.4" y2="448.6" gradientUnits="userSpaceOnUse"><stop offset="0" stop-color="#e2c2a8"/><stop offset="0.12" stop-color="#fbdcc4"/><stop offset="0.4" stop-color="#fff0e2"/><stop offset="0.8" stop-color="#ffeada"/><stop offset="1" stop-color="#ffdcbe"/></linearGradient><linearGradient id="hx3e2" x1="1148" y1="472.1" x2="1138.6" y2="476.8" gradientUnits="userSpaceOnUse"><stop offset="0" stop-color="#503a2a"/><stop offset="0.3" stop-color="#94745c"/><stop offset="0.7" stop-color="#d0a888"/><stop offset="1" stop-color="#fad0b0"/></linearGradient><linearGradient id="hx3e3" x1="1148" y1="540.2" x2="1139.5" y2="536" gradientUnits="userSpaceOnUse"><stop offset="0" stop-color="#38261a"/><stop offset="0.3" stop-color="#745842"/><stop offset="0.75" stop-color="#b48e70"/><stop offset="1" stop-color="#e8bc9c"/></linearGradient><linearGradient id="hx3e4" x1="973.4" y1="574.3" x2="973.4" y2="564.3" gradientUnits="userSpaceOnUse"><stop offset="0" stop-color="#e0b898"/><stop offset="0.22" stop-color="#a07c60"/><stop offset="0.45" stop-color="#8c6a50"/><stop offset="1" stop-color="#ffd8b8"/></linearGradient><linearGradient id="hx3e5" x1="798.5" y1="540.2" x2="805.6" y2="536.6" gradientUnits="userSpaceOnUse"><stop offset="0" stop-color="#cca88a"/><stop offset="0.5" stop-color="#e2bc9c"/><stop offset="1" stop-color="#f8d0b0"/></linearGradient></defs><polygon points="781.2,506.2 815.8,438.1 1131,438.1 1165,506.2 1131,574.3 815.8,574.3" fill="url(#hx3f)"/><polygon points="781.2,506.2 815.8,438.1 819.4,448.6 790.2,506.2" fill="url(#hx3e0)" stroke="url(#hx3e0)" stroke-width=".4"/><polygon points="815.8,438.1 1131,438.1 1124.5,448.6 819.4,448.6" fill="url(#hx3e1)" stroke="url(#hx3e1)" stroke-width=".4"/><polygon points="1131,438.1 1165,506.2 1153.8,507.3 1124.5,448.6" fill="url(#hx3e2)" stroke="url(#hx3e2)" stroke-width=".4"/><polygon points="1165,506.2 1131,574.3 1125.4,564.3 1153.8,507.3" fill="url(#hx3e3)" stroke="url(#hx3e3)" stroke-width=".4"/><polygon points="1131,574.3 815.8,574.3 819.7,564.3 1125.4,564.3" fill="url(#hx3e4)" stroke="url(#hx3e4)" stroke-width=".4"/><polygon points="815.8,574.3 781.2,506.2 790.2,506.2 819.7,564.3" fill="url(#hx3e5)" stroke="url(#hx3e5)" stroke-width=".4"/>
<defs><linearGradient id="hx4f" x1="0" y1="438.5" x2="0" y2="576" gradientUnits="userSpaceOnUse"><stop offset="0" stop-color="#ffdcbe"/><stop offset="1" stop-color="#ffd8b8"/></linearGradient><linearGradient id="hx4e0" x1="1180.9" y1="472.8" x2="1188.1" y2="476.3" gradientUnits="userSpaceOnUse"><stop offset="0" stop-color="#f6d6bc"/><stop offset="0.15" stop-color="#ffe4cc"/><stop offset="0.5" stop-color="#fff6ec"/><stop offset="0.85" stop-color="#ffe6d0"/><stop offset="1" stop-color="#ffdcc0"/></linearGradient><linearGradient id="hx4e1" x1="1349.5" y1="438.5" x2="1349.5" y2="449" gradientUnits="userSpaceOnUse"><stop offset="0" stop-color="#e2c2a8"/><stop offset="0.12" stop-color="#fbdcc4"/><stop offset="0.4" stop-color="#fff0e2"/><stop offset="0.8" stop-color="#ffeada"/><stop offset="1" stop-color="#ffdcbe"/></linearGradient><linearGradient id="hx4e2" x1="1517.5" y1="472.8" x2="1508" y2="477.2" gradientUnits="userSpaceOnUse"><stop offset="0" stop-color="#503a2a"/><stop offset="0.3" stop-color="#94745c"/><stop offset="0.7" stop-color="#d0a888"/><stop offset="1" stop-color="#fad0b0"/></linearGradient><linearGradient id="hx4e3" x1="1517.5" y1="541.5" x2="1508.9" y2="537.5" gradientUnits="userSpaceOnUse"><stop offset="0" stop-color="#38261a"/><stop offset="0.3" stop-color="#745842"/><stop offset="0.75" stop-color="#b48e70"/><stop offset="1" stop-color="#e8bc9c"/></linearGradient><linearGradient id="hx4e4" x1="1349.5" y1="576" x2="1349.5" y2="566" gradientUnits="userSpaceOnUse"><stop offset="0" stop-color="#e0b898"/><stop offset="0.22" stop-color="#a07c60"/><stop offset="0.45" stop-color="#8c6a50"/><stop offset="1" stop-color="#ffd8b8"/></linearGradient><linearGradient id="hx4e5" x1="1180.9" y1="541.5" x2="1188.1" y2="538" gradientUnits="userSpaceOnUse"><stop offset="0" stop-color="#cca88a"/><stop offset="0.5" stop-color="#e2bc9c"/><stop offset="1" stop-color="#f8d0b0"/></linearGradient></defs><polygon points="1164,507 1197.8,438.5 1501.3,438.5 1533.7,507 1501.3,576 1197.8,576" fill="url(#hx4f)"/><polygon points="1164,507 1197.8,438.5 1201.5,449 1172.9,507" fill="url(#hx4e0)" stroke="url(#hx4e0)" stroke-width=".4"/><polygon points="1197.8,438.5 1501.3,438.5 1494.7,449 1201.5,449" fill="url(#hx4e1)" stroke="url(#hx4e1)" stroke-width=".4"/><polygon points="1501.3,438.5 1533.7,507 1522.6,508.2 1494.7,449" fill="url(#hx4e2)" stroke="url(#hx4e2)" stroke-width=".4"/><polygon points="1533.7,507 1501.3,576 1495.5,566 1522.6,508.2" fill="url(#hx4e3)" stroke="url(#hx4e3)" stroke-width=".4"/><polygon points="1501.3,576 1197.8,576 1201.8,566 1495.5,566" fill="url(#hx4e4)" stroke="url(#hx4e4)" stroke-width=".4"/><polygon points="1197.8,576 1164,507 1172.9,507 1201.8,566" fill="url(#hx4e5)" stroke="url(#hx4e5)" stroke-width=".4"/>
<text x="219.2" y="497.4" font-size="37.33" fill="#000" text-anchor="middle"  textLength="257" lengthAdjust="spacing">LAI and LST are</text>
<text x="219.5" y="542.3" font-size="37.33" fill="#000" text-anchor="middle"  textLength="317.7" lengthAdjust="spacing">negatively correlated</text>
<text x="587" y="496.8" font-size="37.33" fill="#000" text-anchor="middle"  textLength="303.4" lengthAdjust="spacing">Vegetation feedback</text>
<text x="587" y="542.1" font-size="37.33" fill="#000" text-anchor="middle"  textLength="354" lengthAdjust="spacing">dominated LST cooling</text>
<text x="968.1" y="494" font-size="37.33" fill="#000" text-anchor="middle"  textLength="281" lengthAdjust="spacing">Separate impact of</text>
<text x="967" y="539" font-size="37.33" fill="#000" text-anchor="middle"  textLength="330.6" lengthAdjust="spacing">crop greening on LST</text>
<text x="1342" y="498" font-size="37.33" fill="#000" text-anchor="middle"  textLength="330" lengthAdjust="spacing">Exploring biophysical</text>
<text x="1341.8" y="542.3" font-size="37.33" fill="#000" text-anchor="middle"  textLength="186.7" lengthAdjust="spacing">mechanisms</text>
<rect x="22.5" y="425.7" width="1513" height="175" rx="125" ry="27" fill="none" stroke="#3b3bee" stroke-width="3" stroke-dasharray="3 3"/>
<text x="397.2" y="368.6" font-size="37.33" fill="#000" text-anchor="middle"  textLength="218.6" lengthAdjust="spacing">Space for time</text>
<text x="397" y="413.5" font-size="37.33" fill="#000" text-anchor="middle"  textLength="138" lengthAdjust="spacing">approach</text>
<text x="1137" y="370.8" font-size="37.33" fill="#000" text-anchor="middle"  textLength="131.8" lengthAdjust="spacing">Scenario</text>
<text x="1136.6" y="415.4" font-size="37.33" fill="#000" text-anchor="middle"  textLength="166.3" lengthAdjust="spacing">differences</text>
<text x="778.7" y="405.6" font-size="37.33" fill="#000" text-anchor="middle"  textLength="155.2" lengthAdjust="spacing">Validation</text>
<path d="M607.3,446.4A150,108 0 0 1 771.5,338.9A150,108 0 0 0 635.6,446.4Z" fill="#0fa9b3" stroke="#2a4f96" stroke-width="1.7" stroke-linejoin="round"/>
<path d="M771.5,338.9A150,108 0 0 1 930.6,418.8L944.6,418.8 921.6,446.8 888.2,418.8 902.3,418.8A150,108 0 0 0 771.5,338.9Z" fill="#12d7e3" stroke="#2a4f96" stroke-width="1.7" stroke-linejoin="miter"/>
<path d="M363.8,544.9C372,552 388,561 402.4,555.8L392.4,548.4 400.7,543.8 424.1,558.1 425,582.4 415.7,587.3 414.9,574.8C404,578.5 383,572 363.8,544.9Z" fill="#00aeef"/>
<path d="M363.8,544.9C372,552 388,561 402.4,555.8L392.4,548.4 400.7,543.8 424.1,558.1 425,582.4 415.7,587.3 414.9,574.8C404,578.5 383,572 363.8,544.9Z" fill="#00aeef" transform="translate(770,6.1)"/>
<text x="376.4" y="678.3" font-size="37.33" fill="#0000ff" text-anchor="start"  textLength="216" lengthAdjust="spacing">Crop greening</text>
<polygon points="594.8,656 628,656 628,646.2 646.1,665 628,683.8 628,674 594.8,674 606,665" fill="#fff" stroke="#2c4f8c" stroke-width="1.6" stroke-linejoin="miter"/>
<text x="657.2" y="678.3" font-size="37.33" fill="#0000ff" text-anchor="start"  textLength="555.5" lengthAdjust="spacing">Daytime cooling &gt; nighttime cooling</text>
<path d="M363.4,696.4L386.2,709.5 371.2,709.5Z" fill="none" stroke="#000" stroke-width=".9" stroke-linejoin="miter"/><path d="M386.2,709.5L363.4,722.8 371.2,709.5Z" fill="#000" stroke="#000" stroke-width=".9"/>
<text x="408" y="723.4" font-size="37.33" fill="#000" text-anchor="start"  textLength="819" lengthAdjust="spacing">Daytime cooling: aerodynamic and surface resistances</text>
<path d="M239.3,741.4L262.1,754.5 247.1,754.5Z" fill="none" stroke="#000" stroke-width=".9" stroke-linejoin="miter"/><path d="M262.1,754.5L239.3,767.8 247.1,754.5Z" fill="#000" stroke="#000" stroke-width=".9"/>
<text x="283.2" y="768.5" font-size="37.33" fill="#000" text-anchor="start"  textLength="1068.3" lengthAdjust="spacing">Nighttime cooling: ground heat flux and ambient temperature feedback</text>
<polygon points="764.6,574.6 792.4,574.6 792.4,599.3 806.7,599.3 778.4,624.7 750.2,599.3 764.6,599.3" fill="#12d7e3" stroke="#2a4f96" stroke-width="1.8" stroke-linejoin="miter"/>
</svg>
</body></html>
